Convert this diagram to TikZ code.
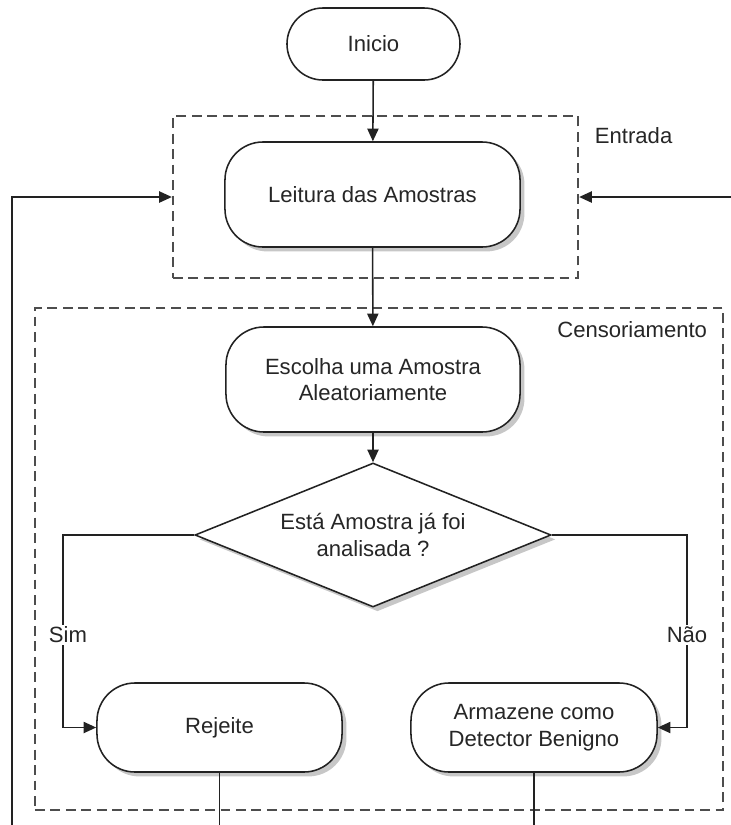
\documentclass[tikz,border=0pt]{standalone}
\usepackage{fontspec}
\setmainfont{Liberation Sans}
\usetikzlibrary{arrows.meta,shapes.geometric,shadows}
\definecolor{txt}{HTML}{262626}
\definecolor{ln}{HTML}{222222}
\definecolor{dsh}{HTML}{4D4D4D}
\tikzset{
  x=0.025cm, y=-0.025cm,
  every node/.style={font=\fontsize{15.7}{19}\selectfont, text=txt},
  shad/.style={drop shadow={shadow xshift=0.11cm, shadow yshift=-0.11cm, fill=black!40, opacity=0.55}},
  roundbox/.style={draw=ln, line width=1.1pt, fill=white, rounded corners=0.95cm, align=center, inner sep=0pt},
  decbox/.style={draw=ln, line width=1.1pt, fill=white, diamond, aspect=2.47, inner sep=0pt, align=center,
    minimum width=8.9cm, minimum height=3.6cm},
  groupbox/.style={draw=dsh, line width=1.6pt, dash pattern=on 7pt off 4pt, inner sep=0pt},
  arr/.style={draw=ln, line width=1.1pt, -{Triangle[length=9pt,width=8pt]}},
  plain/.style={draw=ln, line width=1.1pt},
  lbl/.style={fill=white, inner sep=1.5pt}
}
\begin{document}
\begin{tikzpicture}
\useasboundingbox (0,0) rectangle (731,825);

% group boxes
\node[groupbox, minimum width=10.125cm, minimum height=4.05cm] (entrada) at (375.5,197) {};
\node[groupbox, minimum width=17.2cm, minimum height=12.55cm] (censor) at (379,559) {};
\node[anchor=west] (entradalbl) at (590,136) {Entrada};
\node[anchor=east] (censorlbl) at (712,330) {Censoriamento};

% nodes
\node[roundbox, rounded corners=0.9cm, minimum width=4.325cm, minimum height=1.8cm] (inicio) at (373.5,44) {Inicio};
\node[roundbox, shad, minimum width=7.375cm, minimum height=2.625cm] (leitura) at (372.5,194.5) {Leitura das Amostras};
\node[roundbox, shad, minimum width=7.35cm, minimum height=2.625cm] (escolha) at (373,379.5) {Escolha uma Amostra\\Aleatoriamente};
\node[decbox, shad] (dec) at (373,535) {Está Amostra já foi\\analisada ?};
\node[roundbox, shad, minimum width=6.125cm, minimum height=2.225cm] (rejeite) at (219.5,727.5) {Rejeite};
\node[roundbox, shad, minimum width=6.15cm, minimum height=2.225cm] (armaz) at (534,727.5) {Armazene como\\Detector Benigno};

% connectors
\draw[arr] (inicio) -- (leitura);
\draw[arr] (leitura) -- (escolha);
\draw[arr] (escolha) -- (dec.north);

\coordinate (simc) at (63,535);
\coordinate (naoc) at (687,535);
\draw[arr] (dec.west) -- (simc) |- (rejeite.west);
\draw[arr] (dec.east) -- (naoc) |- (armaz.east);
\node[lbl] (sim) at (68,635) {Sim};
\node[lbl] (nao) at (687,635) {Não};

\coordinate (leftbot) at (12,825);
\coordinate (rightin) at (731,197);
\coordinate (rejbot) at (219.5,825);
\coordinate (armbot) at (534,825);
\draw[arr] (leftbot) |- (entrada.west);
\draw[arr] (rightin) -- (entrada.east);
\draw[plain] (rejeite.south) -- (rejbot);
\draw[plain] (armaz.south) -- (armbot);
\end{tikzpicture}
\end{document}
